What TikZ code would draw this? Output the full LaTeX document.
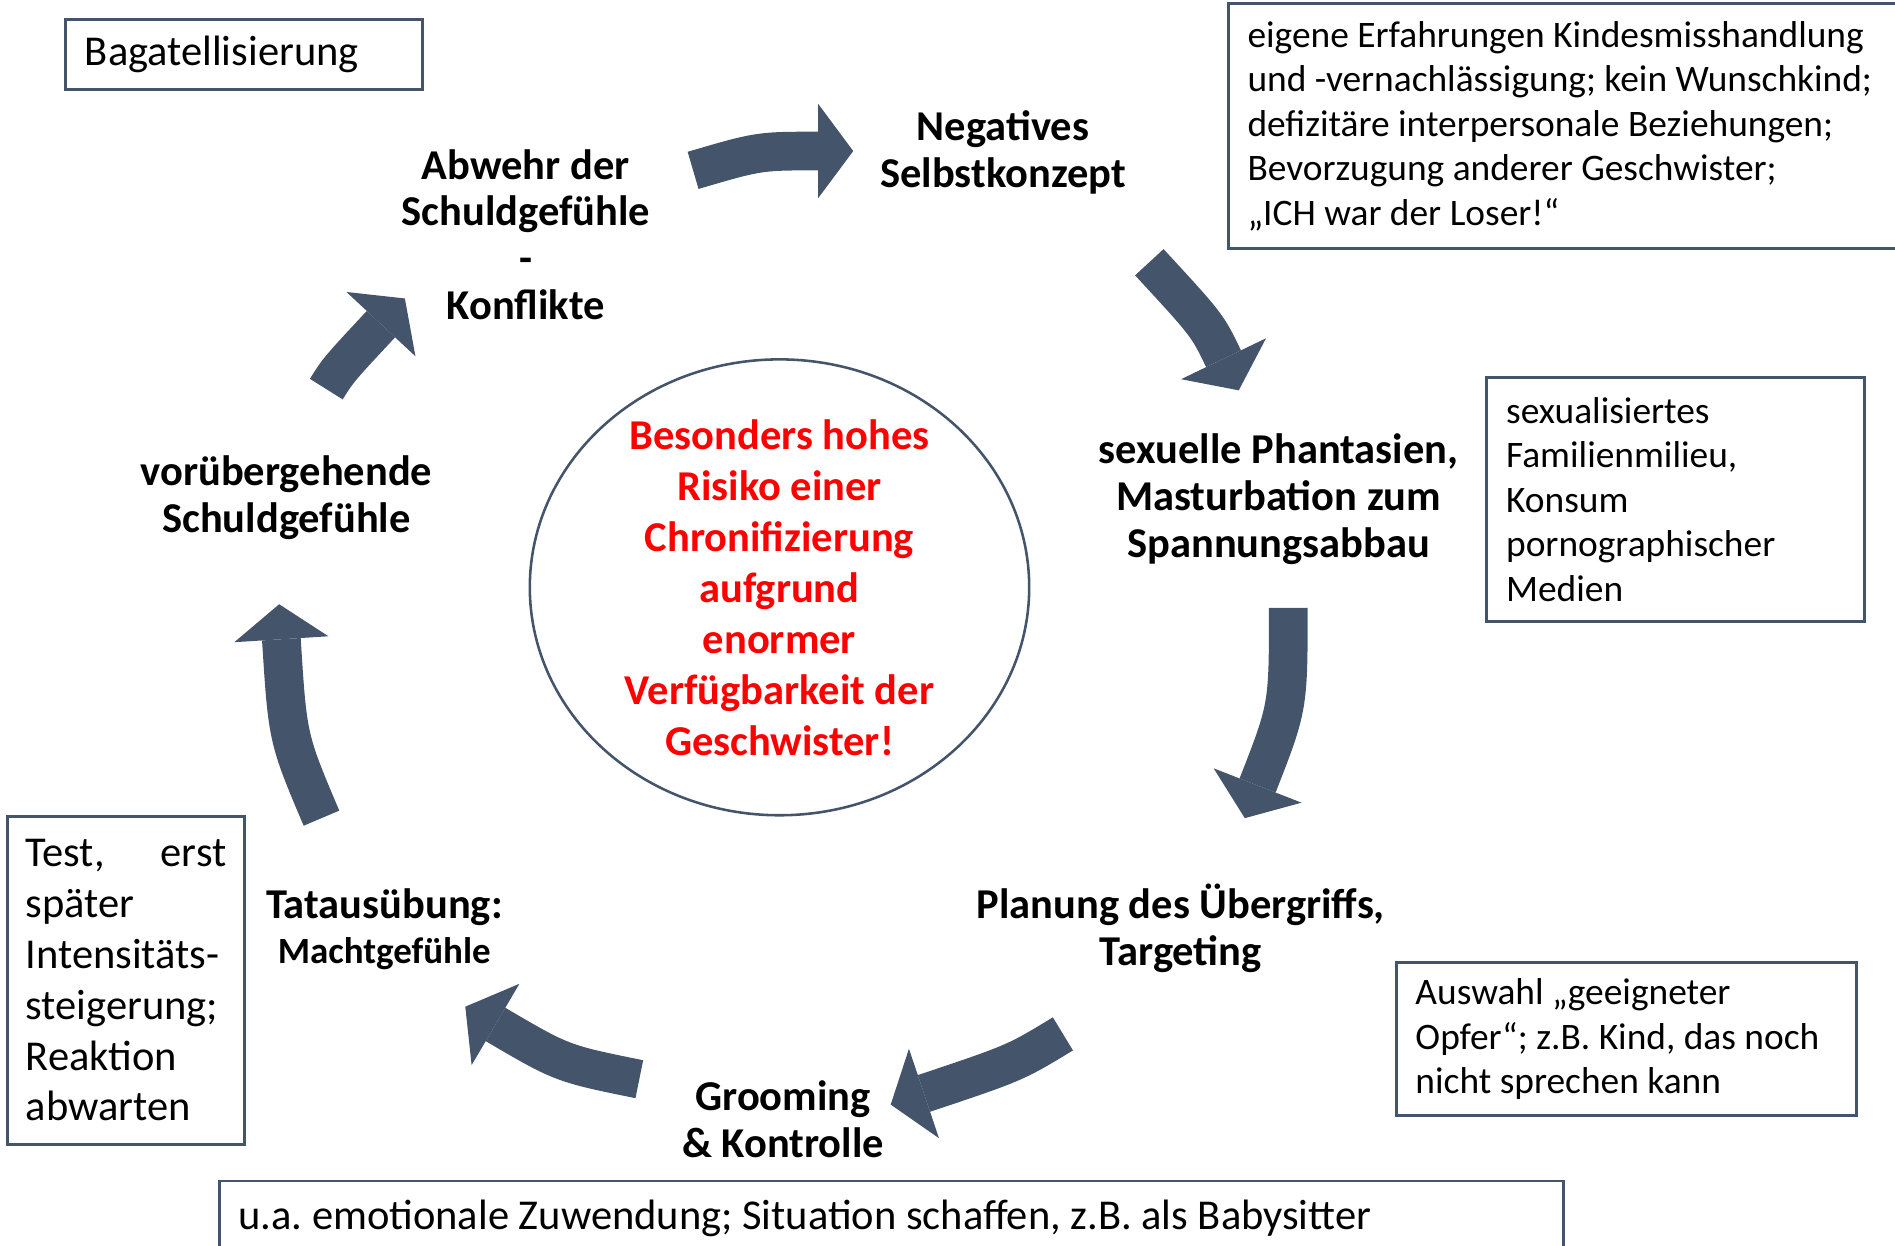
\documentclass[tikz,border=0pt]{standalone}
\usepackage{fontspec}
\setmainfont{Carlito}
\usetikzlibrary{arrows.meta}
\definecolor{slate}{HTML}{44546A}

\tikzset{
  stage/.style={font=\fontsize{10}{11}\selectfont\bfseries, align=flush center, inner sep=0pt},
  infobox/.style={draw=slate, line width=0.7pt, font=\fontsize{10}{10.5}\selectfont\frenchspacing,
    align=flush left, inner xsep=0.16cm, inner ysep=0pt, anchor=north west},
  smallbox/.style={infobox, font=\fontsize{8.8}{10.47}\selectfont\frenchspacing},
  cyc/.style={draw=slate, line width=0.32cm,
    -{Triangle[length=0.29cm, width=0.78cm, line width=0pt]}}
}

\begin{document}
\begin{tikzpicture}[x=0.01cm, y=0.01cm]
\useasboundingbox (0,0) rectangle (1568,1031);

% cycleArrow[tail, control, head]
\def\cycarrow[#1, #2, #3]{
  \draw[cyc] (#1) .. controls (#2) .. (#3);
}

% stages of the cycle
\node[stage] (abwehr) at (435,837) {Abwehr der\\Schuldgefühle\\-\\Konflikte};
\node[stage] (negativ) at (830,905) {Negatives\\Selbstkonzept};
\node[stage, font=\fontsize{10}{11.1}\selectfont\bfseries] (sexuell) at (1058,618)
  {sexuelle Phantasien,\\Masturbation zum\\Spannungsabbau};
\node[stage] (planung) at (977,263) {Planung des Übergriffs,\\Targeting};
\node[stage] (grooming) at (648,105) {Grooming\\\& Kontrolle};
\node[stage, font=\fontsize{10}{10.5}\selectfont\bfseries] (tat) at (318,262)
  {Tatausübung:\\{\fontsize{8.7}{10}\selectfont Machtgefühle}};
\node[stage] (voruber) at (237,619) {vorübergehende\\Schuldgefühle};

% centre
\node[stage, text=red, font=\fontsize{10}{12}\selectfont\bfseries] (risk) at (645,545)
  {Besonders hohes\\Risiko einer\\Chronifizierung\\aufgrund\\enormer\\Verfügbarkeit der\\Geschwister!};
\draw[slate, line width=0.6pt] (risk.center) ellipse [x radius=2.065cm, y radius=1.885cm];

% side notes
\node[infobox, text width=2.63cm, minimum height=0.58cm] (bagatell) at (53,1016) {Bagatellisierung};
\node[smallbox, text width=5.6cm, minimum height=2.02cm] (eigene) at (1015,1029)
  {eigene Erfahrungen Kindesmisshandlung\\und -vernachlässigung; kein Wunschkind;\\defizitäre interpersonale Beziehungen;\\Bevorzugung anderer Geschwister;\\„ICH war der Loser!“};
\node[smallbox, text width=2.80cm, minimum height=2.02cm] (milieu) at (1229,720)
  {sexualisiertes\\Familienmilieu,\\Konsum\\pornographischer\\Medien};
\node[smallbox, text width=3.49cm, minimum height=1.27cm] (auswahl) at (1154,236)
  {Auswahl „geeigneter\\Opfer“; z.B. Kind, das noch\\nicht sprechen kann};
\node[infobox, text width=10.8cm, minimum height=0.62cm] (zuwendung) at (180,55)
  {u.a. emotionale Zuwendung; Situation schaffen, z.B. als Babysitter};
\node[infobox, text width=1.66cm, minimum height=2.72cm, inner xsep=0.15cm,
  font=\fontsize{10}{11.95}\selectfont] (test) at (5,357)
  {Test,\hfill erst\\später\\Intensitäts-\\steigerung;\\Reaktion\\abwarten};

% arrow ends
\coordinate (t1) at (573.5,890); \coordinate (c1) at (628,906);  \coordinate (h1) at (706,906);
\coordinate (t2) at (951,814);   \coordinate (c2) at (999,762);  \coordinate (h2) at (1025,708);
\coordinate (t3) at (1066,528);  \coordinate (c3) at (1066,446); \coordinate (h3) at (1030,354);
\coordinate (t4) at (879.5,175.5); \coordinate (c4) at (840,151.5); \coordinate (h4) at (737,117);
\coordinate (t5) at (529,138);   \coordinate (c5) at (465,151);  \coordinate (h5) at (385,198);
\coordinate (t6) at (266,354);   \coordinate (c6) at (238,420);  \coordinate (h6) at (231,531);
\coordinate (t7) at (270,709);   \coordinate (c7) at (280,725);  \coordinate (h7) at (335,784);

\cycarrow[t1, c1, h1]
\cycarrow[t2, c2, h2]
\cycarrow[t3, c3, h3]
\cycarrow[t4, c4, h4]
\cycarrow[t5, c5, h5]
\cycarrow[t6, c6, h6]
\cycarrow[t7, c7, h7]

\end{tikzpicture}
\end{document}
